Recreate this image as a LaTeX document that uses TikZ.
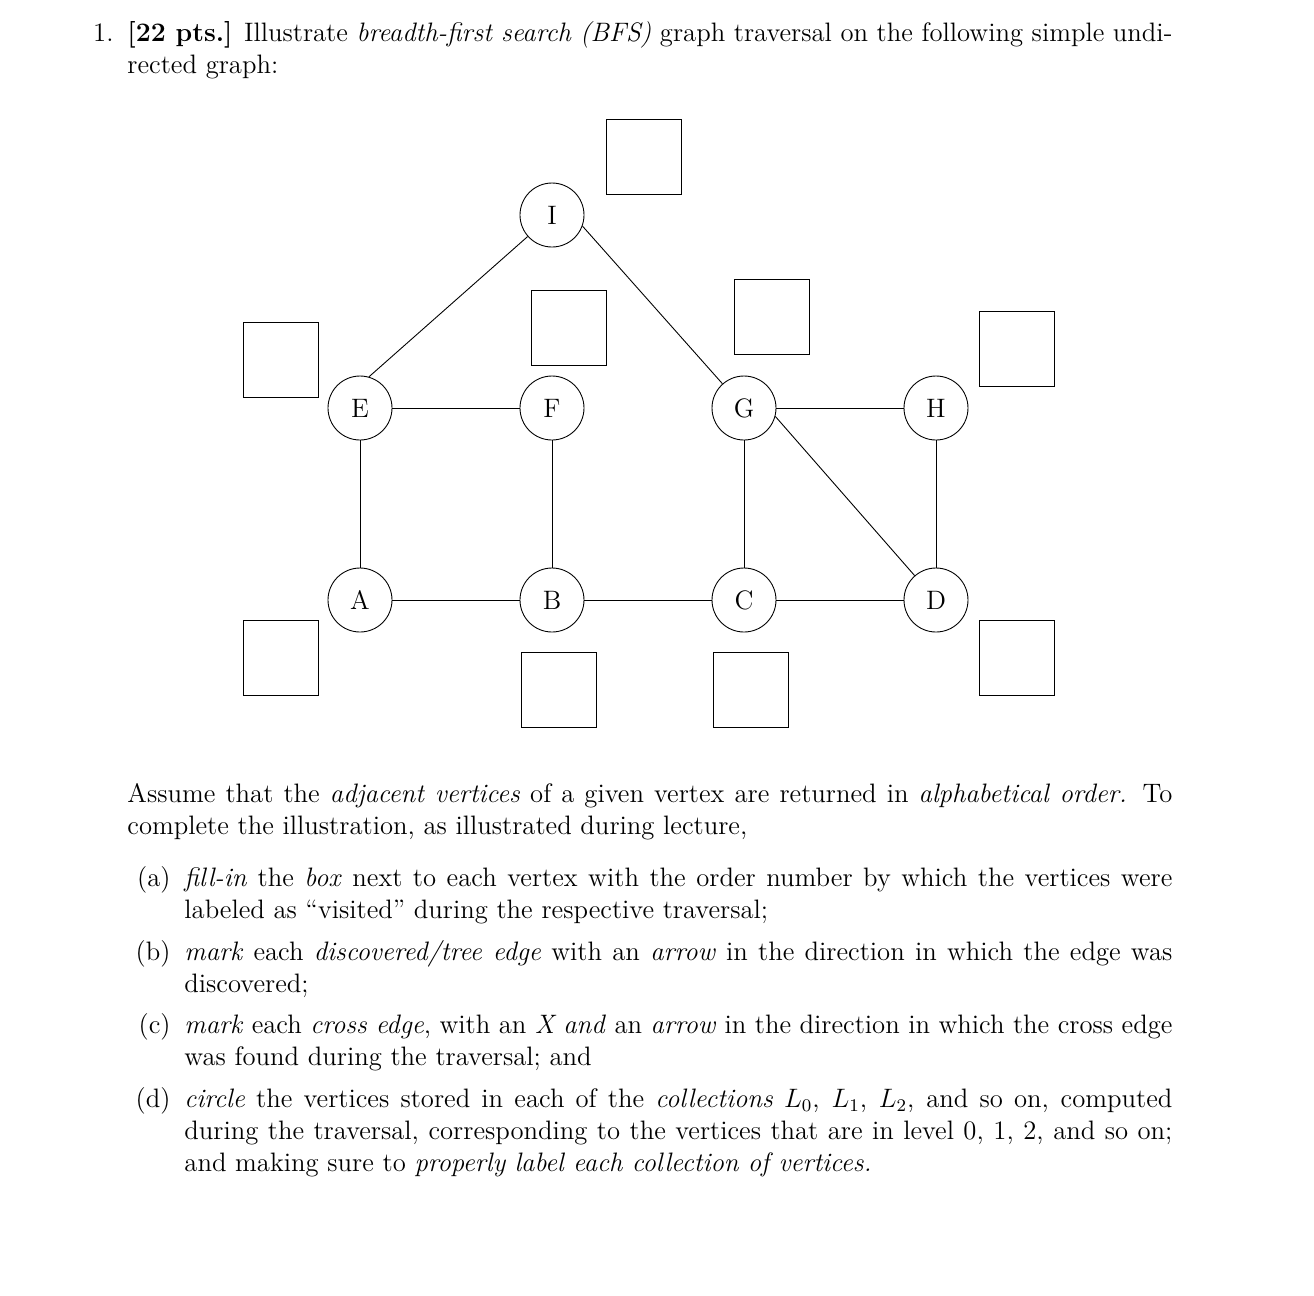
\documentclass[tikz,border=0pt]{standalone}
\usepackage{tikz}
\tikzstyle{vertex}=[
        draw,
        circle,
        minimum size=28.8pt,
        inner sep=0pt,
        font=\fontsize{12}{14.5}\selectfont
]
\tikzstyle{answerbox}=[
        draw=black,
        thin
]
\tikzstyle{para}=[
        anchor=base west,
        inner sep=0pt,
        align=justify,
        font=\fontsize{12}{14.5}\selectfont
]
\tikzstyle{itemlabel}=[
        anchor=base east,
        inner sep=0pt,
        font=\fontsize{12}{14.5}\selectfont
]

\begin{document}
\begin{tikzpicture}[x=0.45pt,y=-0.45pt]
                        \useasboundingbox (0,0) rectangle (1314,1296);

                        \node[itemlabel] (n1) at (114,41) {1.};
                        \node[para,text width=470.25pt] (intro) at (127,41) {\textbf{[22 pts.]} Illustrate \emph{breadth-first search (BFS)} graph traversal on the following simple undi-\linebreak rected graph:};

                        \node[vertex] (I) at (552,215) {I};
                        \node[vertex] (E) at (360,408) {E};
                        \node[vertex] (F) at (552,408) {F};
                        \node[vertex] (G) at (744,408) {G};
                        \node[vertex] (H) at (936,408) {H};
                        \node[vertex] (A) at (360,600) {A};
                        \node[vertex] (B) at (552,600) {B};
                        \node[vertex] (C) at (744,600) {C};
                        \node[vertex] (D) at (936,600) {D};

                        \draw (I) -- (E.74);
                        \draw (I.-20) -- (G);
                        \draw (E) -- (F);
                        \draw (E) -- (A);
                        \draw (F) -- (B);
                        \draw (G) -- (H);
                        \draw (G) -- (C);
                        \draw (G.-15) -- (D);
                        \draw (H) -- (D);
                        \draw (A) -- (B);
                        \draw (B) -- (C);
                        \draw (C) -- (D);

                        \draw[answerbox] (606,119) rectangle (681,194);
                        \draw[answerbox] (243,322) rectangle (318,397);
                        \draw[answerbox] (531,290) rectangle (606,365);
                        \draw[answerbox] (734,279) rectangle (809,354);
                        \draw[answerbox] (979,311) rectangle (1054,386);
                        \draw[answerbox] (243,620) rectangle (318,695);
                        \draw[answerbox] (521,652) rectangle (596,727);
                        \draw[answerbox] (713,652) rectangle (788,727);
                        \draw[answerbox] (979,620) rectangle (1054,695);

                        \node[para,text width=470.25pt] (assume) at (127,802) {Assume that the \emph{adjacent vertices} of a given vertex are returned in \emph{alphabetical order.} To\linebreak complete the illustration, as illustrated during lecture,};

                        \node[itemlabel] (la) at (171,886) {(a)};
                        \node[para,text width=444.6pt] (ta) at (184,886) {\emph{fill-in} the \emph{box} next to each vertex with the order number by which the vertices were\linebreak labeled as ``visited'' during the respective traversal;};

                        \node[itemlabel] (lb) at (171,960) {(b)};
                        \node[para,text width=444.6pt] (tb) at (184,960) {\emph{mark} each \emph{discovered/tree edge} with an \emph{arrow} in the direction in which the edge was\linebreak discovered;};

                        \node[itemlabel] (lc) at (171,1033) {(c)};
                        \node[para,text width=444.6pt] (tc) at (184,1033) {\emph{mark} each \emph{cross edge}, with an \emph{X and} an \emph{arrow} in the direction in which the cross edge\linebreak was found during the traversal; and};

                        \node[itemlabel] (ld) at (171,1107) {(d)};
                        \node[para,text width=444.6pt] (td) at (184,1107) {\emph{circle} the vertices stored in each of the \emph{collections} $L_0$, $L_1$, $L_2$, and so on, computed\linebreak during the traversal, corresponding to the vertices that are in level 0, 1, 2, and so on;\linebreak and making sure to \emph{properly label each collection of vertices.}};

                    \end{tikzpicture}
\end{document}
